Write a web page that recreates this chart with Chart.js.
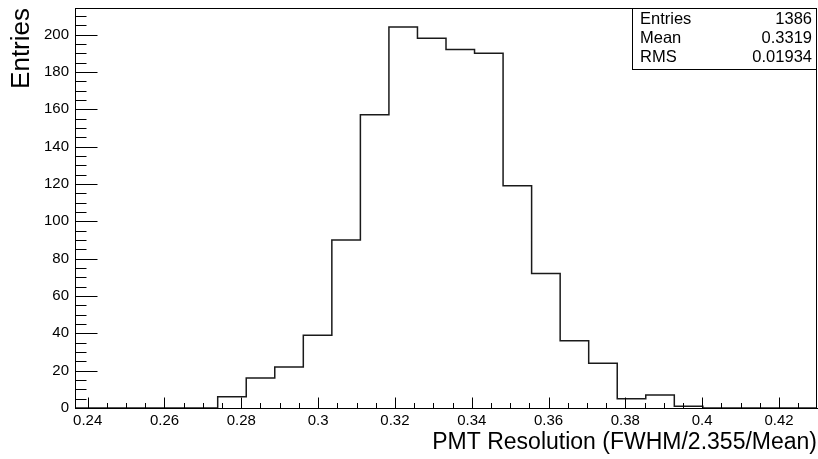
<!DOCTYPE html>
<html><head><meta charset="utf-8">
<script src="https://cdn.jsdelivr.net/npm/chart.js@4/dist/chart.umd.min.js"></script>
<style>html,body{margin:0;padding:0;background:#fff}canvas{display:block}</style>
</head><body>
<canvas id="c" width="818" height="459"></canvas>
<script>
// ---- data ----
const histRange = [0.2367, 0.4299];          // histogram x range (26 bins)
const binCounts = [0, 0, 0, 0, 0, 6, 16, 22, 39, 90, 157, 204, 198, 192, 190, 119, 72, 36, 24, 5, 7, 1, 0, 0, 0, 0];
const xTickValues = [0.24, 0.26, 0.28, 0.30, 0.32, 0.34, 0.36, 0.38, 0.40, 0.42];
const xTickLabels = ['0.24', '0.26', '0.28', '0.3', '0.32', '0.34', '0.36', '0.38', '0.4', '0.42'];
const yTickValues = [0, 20, 40, 60, 80, 100, 120, 140, 160, 180, 200];
const yTickLabels = ['0', '20', '40', '60', '80', '100', '120', '140', '160', '180', '200'];
const statsNames = ['Entries', 'Mean', 'RMS'];
const statsValues = ['1386', '0.3319', '0.01934'];
const xTitle = 'PMT Resolution (FWHM/2.355/Mean)';
const yTitle = 'Entries';

// ---- build histogram outline points from bins ----
const nBins = binCounts.length;
const binW = (histRange[1] - histRange[0]) / nBins;
const pts = [{x: histRange[0], y: 0}];
binCounts.forEach((c, i) => pts.push({x: histRange[0] + i * binW, y: c}));
pts.push({x: histRange[1], y: 0});
const yMax = 1.05 * Math.max(...binCounts);

const FONT = '"Liberation Sans", Arial, Helvetica, sans-serif';

const rootPlugin = {
  id: 'rootStyle',
  afterDraw(chart) {
    const ctx = chart.ctx, a = chart.chartArea;
    const xs = chart.scales.x, ys = chart.scales.y;
    ctx.save();
    ctx.strokeStyle = '#000';
    ctx.lineWidth = 1;
    // frame
    ctx.strokeRect(Math.round(a.left) + 0.5, Math.round(a.top) + 0.5, Math.round(a.right - a.left) - 1, Math.round(a.bottom - a.top));
    // x ticks
    ctx.beginPath();
    const b = Math.round(a.bottom) + 0.5;
    for (let k = -20; k <= 60; k++) {
      const v = 0.24 + k * 0.005;
      if (v < xs.min - 1e-9 || v > xs.max + 1e-9) continue;
      const px = Math.round(xs.getPixelForValue(v)) + 0.5;
      const major = (k % 4 === 0);
      ctx.moveTo(px, b);
      ctx.lineTo(px, b - (major ? 11 : 5.5));
    }
    // y ticks
    const l = Math.round(a.left) + 0.5;
    for (let v = 0; v <= ys.max + 1e-9; v += 5) {
      const py = Math.round(ys.getPixelForValue(v)) + 0.5;
      const major = (v % 20 === 0);
      ctx.moveTo(l, py);
      ctx.lineTo(l + (major ? 22 : 11), py);
    }
    ctx.stroke();
    // stats box
    const bw = 185, bh = 61;
    const bx = Math.round(a.right) - bw, by = Math.round(a.top);
    ctx.fillStyle = '#fff';
    ctx.fillRect(bx, by, bw, bh);
    ctx.strokeRect(bx + 0.5, by + 0.5, bw - 1, bh);
    ctx.fillStyle = '#000';
    ctx.font = '16.5px ' + FONT;
    ctx.textBaseline = 'middle';
    statsNames.forEach((n, i) => {
      const cy = by + 11.5 + i * 19;
      ctx.textAlign = 'left';
      ctx.fillText(n, bx + 8, cy);
      ctx.textAlign = 'right';
      ctx.fillText(statsValues[i], bx + bw - 5, cy);
    });
    ctx.restore();
  }
};

new Chart(document.getElementById('c'), {
  type: 'line',
  data: {
    datasets: [{
      data: pts,
      stepped: true,
      borderColor: '#1a1a1a',
      borderWidth: 1.5,
      pointRadius: 0,
      fill: false,
      tension: 0
    }]
  },
  options: {
    responsive: false,
    animation: false,
    devicePixelRatio: 1,
    layout: {padding: {top: 8, right: 1, left: 0, bottom: 0}},
    plugins: {legend: {display: false}, tooltip: {enabled: false}},
    scales: {
      x: {
        type: 'linear',
        min: histRange[0],
        max: histRange[1],
        afterBuildTicks: s => { s.ticks = xTickValues.map(v => ({value: v})); },
        afterFit: s => { s.height = 51; s.paddingLeft = 0; s.paddingRight = 0; },
        grid: {display: false, drawTicks: false},
        border: {display: true, color: '#000', width: 1},
        ticks: {
          autoSkip: false, maxRotation: 0, minRotation: 0, padding: 4,
          color: '#000', font: {family: FONT, size: 15},
          callback: (v, i) => xTickLabels[i]
        },
        title: {display: true, text: xTitle, align: 'end', color: '#000',
                font: {family: FONT, size: 23}, padding: {top: 0, bottom: 3}}
      },
      y: {
        type: 'linear',
        min: 0,
        max: yMax,
        afterBuildTicks: s => { s.ticks = yTickValues.map(v => ({value: v})); },
        afterFit: s => { s.width = 75; s.paddingTop = 0; s.paddingBottom = 0; },
        grid: {display: false, drawTicks: false},
        border: {display: true, color: '#000', width: 1},
        ticks: {
          autoSkip: false, padding: 6,
          color: '#000', font: {family: FONT, size: 15},
          callback: (v, i) => yTickLabels[i]
        },
        title: {display: true, text: yTitle, align: 'end', color: '#000',
                font: {family: FONT, size: 26}, padding: {top: 6, bottom: 0}}
      }
    }
  },
  plugins: [rootPlugin]
});
</script>
</body></html>
